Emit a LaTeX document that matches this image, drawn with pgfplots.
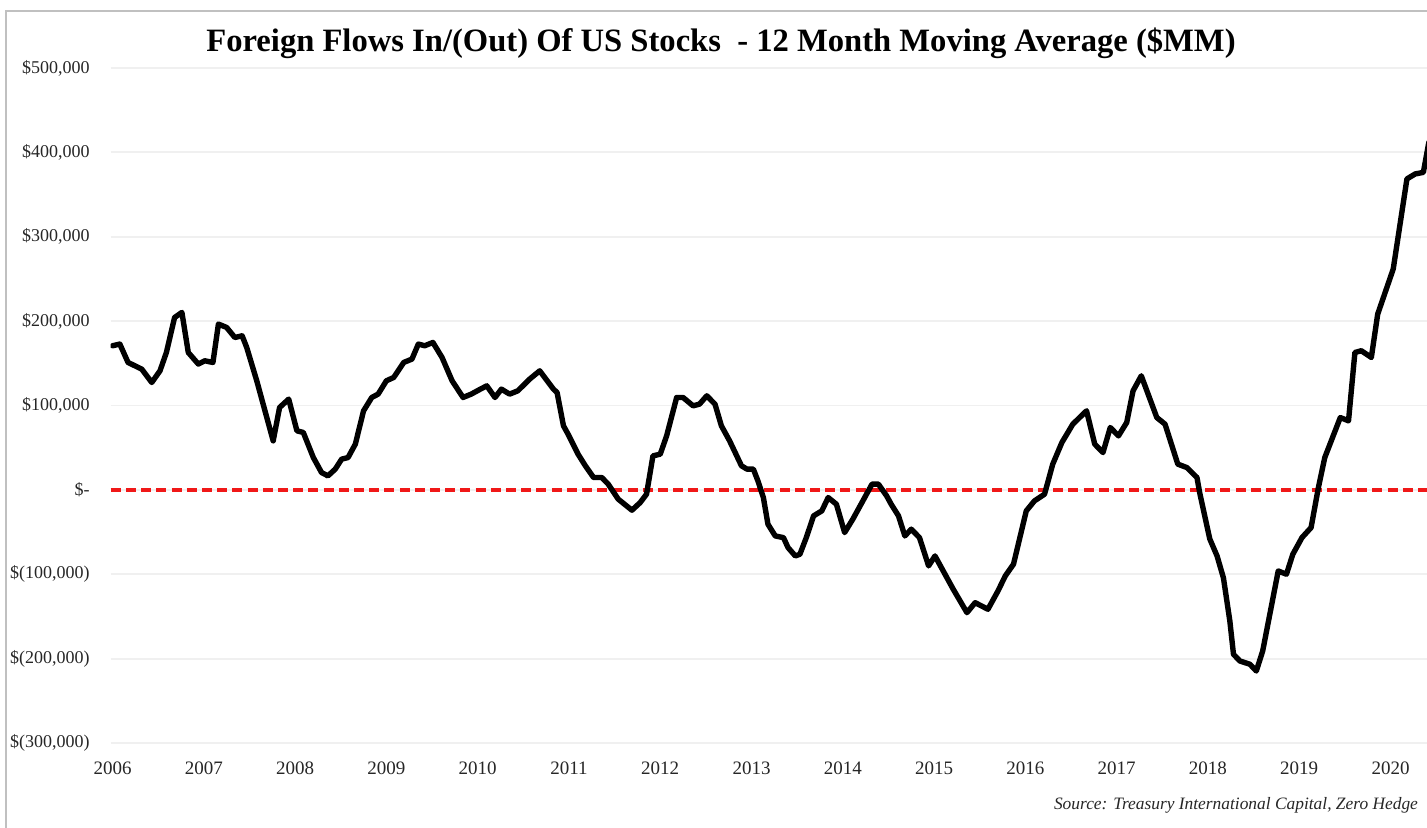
\documentclass[border=0pt]{standalone}
\usepackage{fontspec}
\setmainfont{Liberation Serif}
\usepackage{pgfplots}
\pgfplotsset{compat=1.18}
\usepackage{pgfplotstable}
\definecolor{gridc}{HTML}{F0F0F0}
\definecolor{framec}{HTML}{C0C0C0}
\definecolor{zeroc}{HTML}{F01818}
\definecolor{labc}{HTML}{262626}
\pgfplotstableread{
t v
2006.00 170800
2006.08 172800
2006.17 151000
2006.32 143100
2006.43 127300
2006.52 141100
2006.59 162800
2006.68 204300
2006.76 210300
2006.83 162800
2006.94 149100
2007.01 153000
2007.10 151000
2007.16 196500
2007.25 192500
2007.34 180600
2007.42 182600
2007.47 168800
2007.58 129300
2007.67 93700
2007.76 58100
2007.83 97600
2007.93 107600
2008.02 70000
2008.09 68000
2008.20 38300
2008.29 20500
2008.36 16600
2008.44 24600
2008.51 36400
2008.58 38300
2008.66 54200
2008.75 93700
2008.84 109500
2008.91 113500
2009.00 129300
2009.08 133200
2009.19 151000
2009.28 155000
2009.35 172800
2009.42 170800
2009.51 174700
2009.61 156900
2009.72 129300
2009.84 109500
2009.93 113500
2010.03 119400
2010.10 123300
2010.19 109500
2010.26 119400
2010.35 113500
2010.44 117400
2010.57 131300
2010.68 141100
2010.83 119400
2010.87 115400
2010.94 75900
2010.99 66100
2011.10 42300
2011.18 28500
2011.27 14600
2011.36 14600
2011.43 6800
2011.54 -11000
2011.69 -24100
2011.78 -15100
2011.85 -5100
2011.92 40300
2012.00 42300
2012.07 64000
2012.18 109500
2012.25 109500
2012.36 99600
2012.43 101600
2012.51 111500
2012.60 101600
2012.67 75900
2012.76 58100
2012.89 28500
2012.95 24600
2013.02 24600
2013.07 10700
2013.13 -9100
2013.18 -40700
2013.26 -54600
2013.35 -56600
2013.40 -68400
2013.48 -78300
2013.53 -76300
2013.60 -56600
2013.68 -30800
2013.77 -24900
2013.84 -9100
2013.93 -17000
2014.02 -50600
2014.11 -34700
2014.22 -13000
2014.32 6800
2014.39 6800
2014.48 -7100
2014.53 -17000
2014.61 -30800
2014.68 -54600
2014.75 -46600
2014.84 -56600
2014.94 -90100
2015.01 -78300
2015.14 -104000
2015.21 -117800
2015.36 -145500
2015.45 -133700
2015.59 -141500
2015.70 -119800
2015.78 -102000
2015.87 -88100
2016.01 -24900
2016.10 -13000
2016.21 -5100
2016.30 30500
2016.40 56100
2016.52 77900
2016.67 93700
2016.76 54200
2016.85 44200
2016.93 73900
2017.02 64000
2017.11 79800
2017.18 117400
2017.27 135200
2017.44 85700
2017.53 77900
2017.67 30500
2017.77 26400
2017.88 14600
2017.91 -3600
2018.02 -58100
2018.10 -78300
2018.17 -104400
2018.24 -155400
2018.28 -194900
2018.35 -202800
2018.46 -206700
2018.53 -214700
2018.60 -190900
2018.77 -96100
2018.86 -100000
2018.93 -76300
2019.03 -56600
2019.13 -44700
2019.21 2700
2019.28 38300
2019.45 85700
2019.54 81800
2019.61 162800
2019.68 164900
2019.79 156900
2019.86 208400
2020.03 261800
2020.18 368500
2020.27 374400
2020.36 376300
2020.42 412000
}\flows
\begin{document}
\begin{tikzpicture}
\path[use as bounding box] (0,0) rectangle (713.5pt,414pt);
\draw[framec, line width=1pt] (2.8pt,0pt) -- (2.8pt,408.5pt) -- (713.5pt,408.5pt);
\node[font=\bfseries\fontsize{16.3}{18}\selectfont, text=black] at (360.5pt,392.5pt) {Foreign Flows In/(Out) Of US Stocks \ - 12 Month Moving Average (\$MM)};
\begin{axis}[
  at={(55.35pt,42.5pt)}, anchor=south west,
  scale only axis, width=658.15pt, height=337.5pt,
  xmin=2005.98, xmax=2020.40,
  ymin=-300000, ymax=500000,
  clip=true,
  axis line style={draw=none},
  tick style={draw=none},
  ytick={-300000,-200000,-100000,0,100000,200000,300000,400000,500000},
  yticklabels={{\$(300,000)},{\$(200,000)},{\$(100,000)},{\$-},{\$100,000},{\$200,000},{\$300,000},{\$400,000},{\$500,000}},
  xtick={2006,2007,2008,2009,2010,2011,2012,2013,2014,2015,2016,2017,2018,2019,2020},
  xticklabels={2006,2007,2008,2009,2010,2011,2012,2013,2014,2015,2016,2017,2018,2019,2020},
  ymajorgrids=true,
  major grid style={draw=gridc, line width=0.9pt},
  yticklabel style={font=\fontsize{9}{10}\selectfont, text=labc, anchor=east, inner sep=0pt, xshift=-10.3pt},
  xticklabel style={font=\fontsize{9.5}{10}\selectfont, text=labc, anchor=north, inner sep=0pt, yshift=-9pt},
  scaled y ticks=false,
]
\addplot[zeroc, line width=1.9pt, dash pattern=on 5pt off 2.6pt] coordinates {(2005.98,0) (2020.40,0)};
\addplot[black, line width=2.7pt, line join=round, line cap=round] table[x=t, y=v] {\flows};
\end{axis}
\node[anchor=east, font=\itshape\fontsize{8.7}{10}\selectfont, text=labc] at (712.5pt,11.5pt) {Source: Treasury International Capital, Zero Hedge};
\end{tikzpicture}
\end{document}
